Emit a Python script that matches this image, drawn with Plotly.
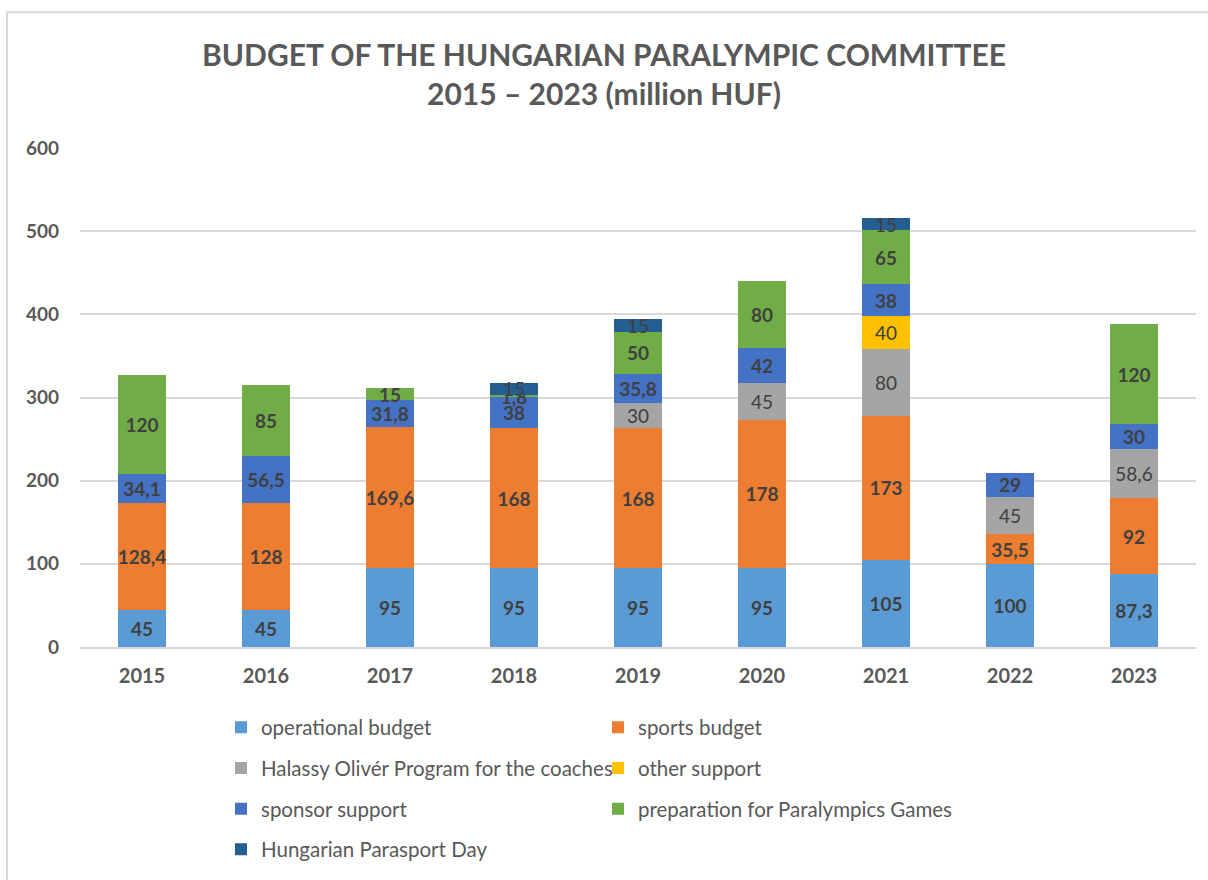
import plotly.graph_objects as go

years = ["2015", "2016", "2017", "2018", "2019", "2020", "2021", "2022", "2023"]
operational = [45, 45, 95, 95, 95, 95, 105, 100, 87.3]
sports = [128.4, 128, 169.6, 168, 168, 178, 173, 35.5, 92]
halassy = [None, None, None, None, 30, 45, 80, 45, 58.6]
other = [None, None, None, None, None, None, 40, None, None]
sponsor = [34.1, 56.5, 31.8, 38, 35.8, 42, 38, 29, 30]
preparation = [120, 85, 15, 1.8, 50, 80, 65, None, 120]
parasport_day = [None, None, None, 15, 15, None, 15, None, None]
y_ticks = [0, 100, 200, 300, 400, 500, 600]

series = [
    ("operational budget", operational, "#5B9BD5", True, "legend"),
    ("sports budget", sports, "#ED7D31", True, "legend2"),
    ("Halassy Olivér Program for the coaches", halassy, "#A5A5A5", False, "legend"),
    ("other support", other, "#FFC000", False, "legend2"),
    ("sponsor support", sponsor, "#4472C4", True, "legend"),
    ("preparation for Paralympics Games", preparation, "#70AD47", True, "legend2"),
    ("Hungarian Parasport Day", parasport_day, "#255E91", False, "legend"),
]

FONT = "Lato"


def fmt(v):
    if v is None:
        return ""
    if float(v).is_integer():
        return str(int(v))
    return str(v).replace(".", ",")


fig = go.Figure()
for name, vals, color, bold, leg in series:
    fig.add_trace(go.Bar(
        name=name,
        x=years,
        y=vals,
        marker=dict(color=color, line=dict(width=0)),
        text=[fmt(v) for v in vals],
        textposition="inside",
        insidetextanchor="middle",
        constraintext="none",
        textangle=0,
        textfont=dict(family=FONT, size=19, color="#404040",
                      weight="bold" if bold else "normal"),
        cliponaxis=False,
        legend=leg,
        legendgroup=name,
        hoverinfo="skip",
    ))

legend_font = dict(family=FONT, size=20.5, color="#595959")

fig.update_layout(
    barmode="stack",
    bargap=0.61,
    width=1208,
    height=880,
    paper_bgcolor="white",
    plot_bgcolor="white",
    margin=dict(l=80, r=12, t=148, b=232),
    font=dict(family=FONT, color="#595959"),
    title=dict(
        text="BUDGET OF THE HUNGARIAN PARALYMPIC COMMITTEE<br>2015 – 2023 (million HUF)",
        x=0.5, xanchor="center", y=1 - 66 / 880, yanchor="top",
        font=dict(family=FONT, size=30, color="#595959", weight="bold"),
    ),
    xaxis=dict(
        tickfont=dict(family=FONT, size=20, color="#595959", weight="bold"),
        showgrid=False,
        showline=True, linecolor="#D9D9D9", linewidth=2,
        ticks="", ticklabelstandoff=10,
    ),
    yaxis=dict(
        range=[0, 600],
        tickvals=y_ticks,
        tickfont=dict(family=FONT, size=19, color="#595959", weight="bold"),
        showgrid=True, gridcolor="#D9D9D9", gridwidth=2,
        zeroline=False, ticks="", ticklabelstandoff=20,
    ),
    legend=dict(
        x=(221 - 80) / 1116, xanchor="left", y=-0.119, yanchor="top",
        orientation="v", tracegroupgap=11,
        font=legend_font, bgcolor="rgba(0,0,0,0)",
        itemclick=False, itemdoubleclick=False,
    ),
    legend2=dict(
        x=(598 - 80) / 1116, xanchor="left", y=-0.119, yanchor="top",
        orientation="v", tracegroupgap=11,
        font=legend_font, bgcolor="rgba(0,0,0,0)",
        itemclick=False, itemdoubleclick=False,
    ),
    showlegend=True,
)

fig.add_shape(type="rect", xref="paper", yref="paper",
              x0=-0.0654, x1=1.02, y0=-0.5, y1=1.272,
              line=dict(color="#D9D9D9", width=2), layer="below")

fig.write_html("out.html", config={"displayModeBar": False},
               post_script="document.body.style.margin='0';")
